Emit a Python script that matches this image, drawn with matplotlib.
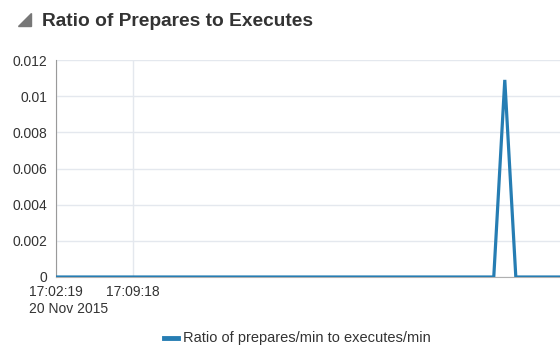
import matplotlib
matplotlib.use("Agg")
import matplotlib.pyplot as plt
from matplotlib.patches import Polygon
import matplotlib.transforms as mtransforms

plt.rcParams['font.family'] = ['Liberation Sans', 'DejaVu Sans']

# minutes after 17:02:19 on 20 Nov 2015
minutes = [0, 39.7, 40.7, 41.7, 46.5]
ratio = [0, 0, 0.0109, 0, 0]
tick_minutes = [0, 6.983]
tick_labels = ["17:02:19\n20 Nov 2015", "17:09:18"]
yticks = [0, 0.002, 0.004, 0.006, 0.008, 0.01, 0.012]
ytick_labels = ["0", "0.002", "0.004", "0.006", "0.008", "0.01", "0.012"]
title = "Ratio of Prepares to Executes"
series_name = "Ratio of prepares/min to executes/min"

fig = plt.figure(figsize=(5.6, 3.45), dpi=100)
ax = fig.add_axes([56 / 560, 1 - 277 / 345, 504 / 560, 217 / 345])

line_color = "#267db3"
ax.plot(minutes, ratio, color=line_color, lw=2.3, solid_joinstyle='miter', zorder=3)

ax.set_xlim(0, 6.983 * 504 / 77)
ax.set_ylim(0, 0.012)
ax.set_yticks(yticks)
ax.set_yticklabels(ytick_labels)
ax.set_xticks(tick_minutes)
ax.set_xticklabels(tick_labels)
for lbl in ax.get_xticklabels():
    lbl.set_horizontalalignment('left')
    lbl.set_multialignment('left')
ax.tick_params(axis='x', length=0, pad=6, labelsize=10, colors="#333333")
ax.tick_params(axis='y', length=0, pad=6.5, labelsize=10, colors="#333333")
offset = mtransforms.ScaledTranslation(-27 / 100, 0, fig.dpi_scale_trans)
for lbl in ax.get_xticklabels():
    lbl.set_transform(lbl.get_transform() + offset)

ax.grid(True, color="#e4e8ee", lw=1)
ax.set_axisbelow(True)
for s in ['top', 'right']:
    ax.spines[s].set_visible(False)
ax.spines['left'].set_color("#9a9a9a")
ax.spines['bottom'].set_color("#b0b0b0")

# title and icon
fig.text(42 / 560, 1 - 21 / 345, title, fontsize=13.8, fontweight='bold',
         color="#333333", va='center', ha='left')
tri = Polygon([(18 / 560, 1 - 26 / 345), (31 / 560, 1 - 26 / 345), (31 / 560, 1 - 13 / 345)],
              closed=True, transform=fig.transFigure, color="#777777")
fig.patches.append(tri)

# legend
fig.lines.append(plt.Line2D([164 / 560, 178 / 560], [1 - 338 / 345, 1 - 338 / 345],
                            transform=fig.transFigure, color=line_color, lw=3.5))
fig.text(183 / 560, 1 - 338 / 345, series_name, fontsize=10.5, color="#333333",
         va='center', ha='left')

fig.savefig("out.png", dpi=100)
